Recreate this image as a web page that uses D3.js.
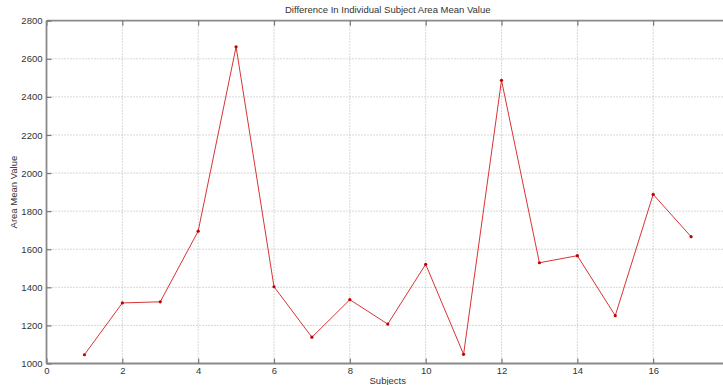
<!DOCTYPE html>
<html><head><meta charset="utf-8">
<script src="https://cdn.jsdelivr.net/npm/d3@7"></script>
<style>
body{margin:0;background:#fff;}
svg{display:block;font-family:"Liberation Sans",Arial,sans-serif;}
</style></head>
<body><div id="chart"></div>
<script>
const subjects = [1,2,3,4,5,6,7,8,9,10,11,12,13,14,15,16,17];
const areaMean = [1046,1318,1324,1695,2663,1403,1138,1335,1207,1521,1048,2487,1529,1566,1251,1888,1666];
const xTicks = [0,2,4,6,8,10,12,14,16,18];
const xTickLabels = ["0","2","4","6","8","10","12","14","16",""];
const yTicks = [1000,1200,1400,1600,1800,2000,2200,2400,2600,2800];
const title = "Difference In Individual Subject Area Mean Value";
const xLabel = "Subjects";
const yLabel = "Area Mean Value";

const W = 723, H = 385;
const m = {left:46.5, top:20.7, right:-6, bottom:21.5};
const svg = d3.select("#chart").append("svg").attr("width",W).attr("height",H);
const x = d3.scaleLinear().domain([0,18]).range([m.left, W - m.right]);
const y = d3.scaleLinear().domain([1000,2800]).range([H - m.bottom, m.top]);

const g = svg.append("g");
// grid
g.selectAll(".gx").data(xTicks.slice(1,-1)).join("line")
  .attr("x1",d=>x(d)).attr("x2",d=>x(d)).attr("y1",y(1000)).attr("y2",y(2800))
  .attr("stroke","#b0b0b0").attr("stroke-width",1).attr("stroke-dasharray","1,2");
g.selectAll(".gy").data(yTicks.slice(1,-1)).join("line")
  .attr("x1",x(0)).attr("x2",x(18)).attr("y1",d=>y(d)).attr("y2",d=>y(d))
  .attr("stroke","#b0b0b0").attr("stroke-width",1).attr("stroke-dasharray","1,2");

// axes
const axCol = "#8a8a8a";
const xb = d3.axisBottom(x).tickValues(xTicks).tickSize(-5).tickPadding(4)
  .tickFormat((d,i)=>xTickLabels[i]);
const xt = d3.axisTop(x).tickValues(xTicks).tickSize(-5).tickFormat("");
const yl = d3.axisLeft(y).tickValues(yTicks).tickSize(-5).tickPadding(4).tickFormat(d3.format("d"));
function style(sel){
  sel.select(".domain").attr("stroke",axCol).attr("stroke-width",1.8);
  sel.selectAll(".tick line").attr("stroke","#777").attr("stroke-width",1.2);
  sel.selectAll("text").attr("fill","#333").style("font-size","9.5px").style("font-family","'Liberation Sans',Arial,sans-serif");
}
svg.append("g").attr("transform",`translate(0,${y(1000)})`).call(xb).call(style)
  .call(s=>s.select(".domain").attr("d",`M${x(0)},0H${x(18)}`));
svg.append("g").attr("transform",`translate(0,${y(2800)})`).call(xt).call(style)
  .call(s=>s.select(".domain").attr("d",`M${x(0)},0H${x(18)}`));
svg.append("g").attr("transform",`translate(${x(0)},0)`).call(yl).call(style)
  .call(s=>s.select(".domain").attr("d",`M0,${y(1000)}V${y(2800)}`));

// line
const line = d3.line().x((d,i)=>x(subjects[i])).y(d=>y(d));
svg.append("path").datum(areaMean).attr("d",line).attr("fill","none")
  .attr("stroke","#d83434").attr("stroke-width",1);
svg.selectAll(".pt").data(areaMean).join("circle")
  .attr("cx",(d,i)=>x(subjects[i])).attr("cy",d=>y(d)).attr("r",1.6).attr("fill","#c00000");

// labels
svg.append("text").attr("x",(x(0)+x(18))/2).attr("y",12.5).attr("text-anchor","middle")
  .attr("fill","#333").style("font-size","9.5px").text(title);
svg.append("text").attr("x",(x(0)+x(18))/2).attr("y",384).attr("text-anchor","middle")
  .attr("fill","#333").style("font-size","9.5px").text(xLabel);
svg.append("text").attr("transform",`translate(17,${(y(1000)+y(2800))/2}) rotate(-90)`)
  .attr("text-anchor","middle").attr("fill","#333").style("font-size","9.5px").text(yLabel);
</script></body></html>
